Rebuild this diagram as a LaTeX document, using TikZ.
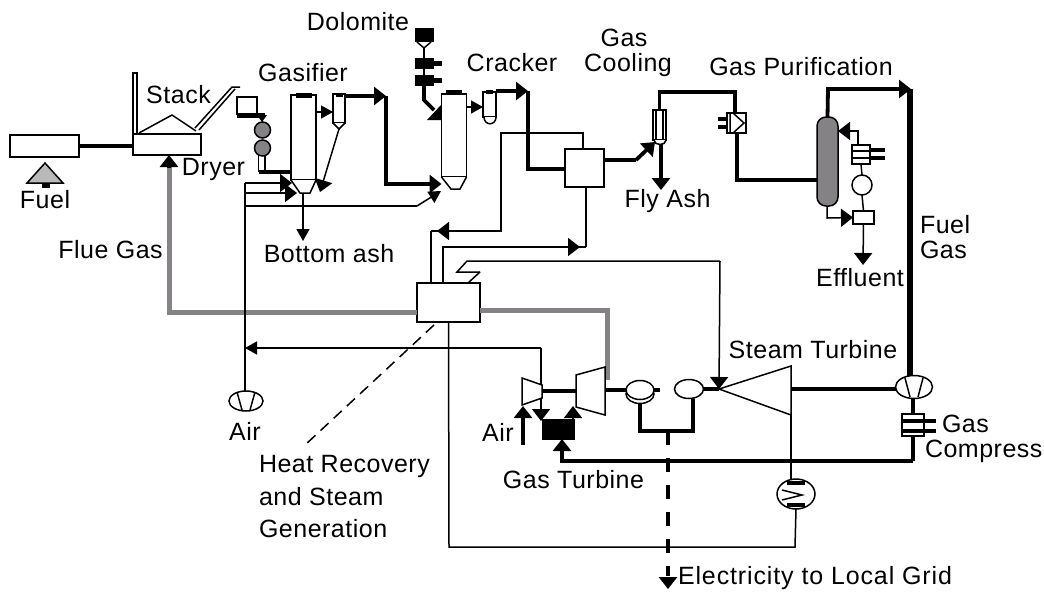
\documentclass[tikz,border=0pt]{standalone}
\usepackage{fontspec}
\setmainfont[LetterSpace=2]{Liberation Sans}
\usetikzlibrary{arrows.meta,shapes.geometric}
\definecolor{fluegray}{HTML}{858285}
\tikzset{
  thinpipe/.style={line width=1.5pt},
  thickpipe/.style={line width=3.8pt},
  fluepipe/.style={line width=5pt,draw=fluegray},
  tip/.style={-{Triangle[length=12pt,width=13pt]}},
  bigtip/.style={-{Triangle[length=12pt,width=18pt]}},
  unit/.style={draw,line width=1.5pt,fill=white,inner sep=0pt,outer sep=0pt},
  oval/.style={unit,ellipse},
  tag/.style={font=\fontsize{25}{25}\selectfont,inner sep=0pt,outer sep=0pt},
}
\begin{document}
\begin{tikzpicture}[x=1pt,y=-1pt]
  \useasboundingbox (0,0) rectangle (1044,595);

  \node[unit,minimum width=69pt,minimum height=22pt] (fuelbox) at (44.5,146) {};
  \node[unit,minimum width=68pt,minimum height=21pt] (dryer) at (167,144.5) {};
  \node[unit,minimum width=20pt,minimum height=17pt] (hopper) at (247,105.5) {};
  \node[unit,circle,fill=fluegray,minimum size=16pt] (valvea) at (262.5,130) {};
  \node[unit,circle,fill=fluegray,minimum size=16pt] (valveb) at (262.5,148) {};
  \node[unit,minimum width=25pt,minimum height=85pt] (gasifier) at (303.5,137.5) {};
  \node[unit,minimum width=12pt,minimum height=29pt] (cyclonea) at (339,108.5) {};
  \node[unit,minimum width=25pt,minimum height=83pt] (cracker) at (454,135.5) {};
  \node[unit,minimum width=13pt,minimum height=25pt] (cycloneb) at (489.5,104.5) {};
  \node[unit,minimum width=39pt,minimum height=38pt] (cooler) at (584.5,168) {};
  \node[unit,minimum width=13pt,minimum height=30pt] (flyash) at (659.5,125) {};
  \node[unit,minimum width=19pt,minimum height=20pt] (filter) at (736.5,123) {};
  \node[unit,fill=fluegray,rounded corners=9pt,minimum width=21pt,minimum height=89pt] (scrubber) at (827.5,161.5) {};
  \node[unit,minimum width=18pt,minimum height=19pt] (washer) at (861,154.5) {};
  \node[unit,circle,minimum size=20pt] (pump) at (862,185) {};
  \node[unit,minimum width=21pt,minimum height=13pt] (settler) at (863.5,217.5) {};
  \node[unit,minimum width=63pt,minimum height=39pt] (hrsg) at (448.5,302.5) {};
  \node[oval,minimum width=34pt,minimum height=20pt] (airfan) at (246,401) {};
  \node[unit,fill=black,minimum width=31pt,minimum height=19pt] (burner) at (558.5,429.5) {};
  \node[oval,minimum width=28pt,minimum height=19pt] (genb) at (640,394) {};
  \node[oval,minimum width=28pt,minimum height=19pt] (gena) at (640,390) {};
  \node[oval,minimum width=29pt,minimum height=19pt] (genc) at (689,389) {};
  \node[oval,minimum width=37pt,minimum height=23pt] (expander) at (914,387) {};
  \node[unit,minimum width=22pt,minimum height=22pt] (gascomp) at (913,425) {};
  \node[oval,minimum width=38pt,minimum height=30pt] (condenser) at (796,494) {};

  \coordinate (dolo) at (424,48);
  \coordinate (dolotip) at (441,113);
  \coordinate (airline) at (245,348);
  \coordinate (gtin) at (541,421);
  \coordinate (gtout) at (576,406);
  \coordinate (stin) at (719,389);
  \coordinate (elec) at (668,431);
  \coordinate (elecend) at (668,589);

  % drying and feed
  \draw[thickpipe] (fuelbox.east) -- (dryer.west |- fuelbox.east);
  \draw[thinpipe] (133,134) -- (133,73) -- (137,73) -- (137,134);
  \draw[thinpipe] (139,133) -- (172,115) -- (196,131);
  \draw[thinpipe] (195,128) -- (232,87) -- (240,87) (199,130) -- (235,89);
  \draw[thinpipe,fill=gray!55] (45,163) -- (27,183) -- (63,183) -- cycle;
  \fill (42,183) rectangle (50,188);
  \draw[line width=5pt,draw=black] (237,115) -- (265,115);
  \fill (257,115) -- (267,115) -- (262,122) -- cycle;
  \draw[thinpipe] (258.5,155) -- (258.5,172) (265,155) -- (265,170);
  \draw[thickpipe] (259,172) -- (gasifier.west |- 0,172);
  \draw[fluepipe] (169,165) -- (169,312) -- (hrsg.west |- 0,312);
  \draw[bigtip,thickpipe,draw=black] (169,168) -- (dryer.south -| 169,0);

  % gasifier
  \draw[thinpipe,fill=white] (gasifier.south west) -- (300,193) -- (310,193) -- (gasifier.south east);
  \draw[line width=5pt] (296,95) -- (312,95);
  \draw[thinpipe,fill=white] (cyclonea.south west) -- (339,129) -- (cyclonea.south east);
  \draw[line width=4pt] (336,95) -- (343,95);
  \draw[thinpipe,tip] (gasifier.east |- 0,112) -- (cyclonea.west |- 0,112);
  \draw[thickpipe,bigtip] (cyclonea.north east |- 0,96) -- (386,96);
  \draw[thickpipe,bigtip] (386,96) -- (386,184) -- (cracker.west |- 0,184);
  \draw[thinpipe,bigtip] (339,129) -- (320,192);
  \draw[thinpipe] (245,183) -- (airfan.north -| 245,0);
  \draw[thinpipe,bigtip] (245,183) -- (292,183);
  \draw[thinpipe,bigtip] (245,193) -- (297,193);
  \draw[thinpipe] (245,206) -- (417,206);
  \draw[thinpipe,tip] (417,206) -- (441,191);
  \draw[thinpipe,tip] (303,193) -- (303,241);

  % cracker
  \draw[thinpipe,fill=white] (cracker.south west) -- (451,189) -- (460,189) -- (cracker.south east);
  \draw[line width=4pt] (446,92) -- (462,92);
  \fill (415,28) rectangle (434,42);
  \draw[thinpipe] (417,42) -- (424,48) -- (431,42);
  \draw[thinpipe] (dolo) -- (424,58);
  \draw[line width=11pt] (415,63) -- (434,63) (415,80) -- (434,80);
  \draw[line width=5pt] (434,63) -- (442,63) (434,80) -- (442,80);
  \draw[thinpipe] (424,67) -- (424,76);
  \draw[thickpipe] (424,84) -- (424,100) -- (434,110);
  \fill (427,120) -- (441,120) -- (dolotip) -- (441,105) -- cycle;
  \draw[thinpipe,tip] (cracker.east |- 0,107) -- (cycloneb.west |- 0,107);
  \draw[thinpipe,fill=white] (484,117) .. controls (484,126) and (496,126) .. (496,117);
  \draw[line width=4pt] (486,92) -- (493,92);
  \draw[thickpipe,bigtip] (cycloneb.north east |- 0,91) -- (528,91);
  \draw[thickpipe] (528,91) -- (528,169) -- (cooler.west |- 0,169);

  % gas cooling
  \draw[thickpipe] (cooler.east |- 0,160) -- (636,160);
  \draw[thickpipe,bigtip] (636,160) -- (655,142);
  \draw[thinpipe] (656,110) -- (656,140) (663,110) -- (663,140);
  \draw[thickpipe] (flyash.north) -- (659.5,92) -- (735,92) -- (filter.north -| 735,0);
  \draw[thickpipe,bigtip] (661,142) -- (661,190);
  \draw[thinpipe,fill=white] (654,140) .. controls (654,146) and (666,146) .. (666,140);
  \draw[thickpipe] (718,119) -- (filter.west |- 0,119) (718,127) -- (filter.west |- 0,127);
  \draw[thinpipe] (730,113) -- (730,133) (733,113) -- (744,123) -- (733,133);
  \draw[thickpipe] (filter.south -| 737,0) -- (737,180) -- (scrubber.west |- 0,180);

  % gas purification
  \draw[thickpipe,bigtip] (scrubber.north) -- (828,89) -- (911,89);
  \draw[line width=6pt] (910,89) -- (910,376);
  \draw[thinpipe,bigtip] (858,145) -- (858,131) -- (scrubber.east |- 0,131);
  \draw[thickpipe] (washer.east |- 0,150) -- (885,150) (washer.east |- 0,158) -- (885,158);
  \draw[thinpipe] (washer.west |- 0,151) -- (washer.east |- 0,151) (washer.west |- 0,158) -- (washer.east |- 0,158);
  \draw[thinpipe] (861,164) -- (pump.north);
  \draw[thinpipe] (pump.south) -- (settler.north);
  \draw[thinpipe,bigtip] (827,206) -- (827,218) -- (settler.west);
  \draw[thinpipe,bigtip] (settler.south) -- (863,265);

  % heat recovery
  \draw[thinpipe] (583,149) -- (583,133) -- (501,133) -- (501,231) -- (431,231);
  \draw[thinpipe,bigtip] (470,231) -- (437,231);
  \draw[thinpipe] (431,231) -- (431,283);
  \draw[thinpipe] (443,283) -- (443,247) -- (586,247);
  \draw[thinpipe,bigtip] (500,247) -- (580,247);
  \draw[thinpipe] (cooler.south -| 586,0) -- (586,247);
  \draw[thinpipe] (468,283) -- (480,272);
  \draw[thinpipe] (480,272) -- (457,272) -- (467,261) -- (720,261);
  \draw[thinpipe,bigtip] (720,261) -- (stin);
  \draw[thinpipe,dash pattern=on 11pt off 7pt] (434,325) -- (305,445);
  \draw[thinpipe] (hrsg.south) -- (449,547) -- (795,547) -- (condenser.south);
  \draw[fluepipe] (hrsg.east |- 0,310) -- (607,310) -- (607,380);

  % gas turbine
  \draw[thinpipe,tip] (541,348) -- (airline);
  \draw[thinpipe] (541,348) -- (gtin |- 0,410);
  \draw[thinpipe,bigtip] (gtin |- 0,410) -- (gtin);
  \draw[thinpipe,fill=white] (522,378) -- (542,385) -- (542,398) -- (522,405) -- cycle;
  \draw[thinpipe,fill=white] (576,375) -- (605,367) -- (605,415) -- (576,407) -- cycle;
  \draw[thickpipe] (542,391) -- (576,391);
  \draw[thinpipe,bigtip] (573,420) -- (gtout -| 573,0);
  \draw[thickpipe,bigtip] (523,445) -- (523,406);
  \draw[thickpipe,bigtip] (913,461) -- (562,461) -- (burner.south -| 562,0);
  \draw[thickpipe] (605,390) -- (gena.west);
  \draw[thickpipe] (gena.east) -- (660,390);
  \draw[thickpipe] (genc.east) -- (stin);

  % steam turbine
  \draw[thinpipe,fill=white] (stin) -- (791,366) -- (791,415) -- cycle;
  \draw[thinpipe] (791,415) -- (791,479);
  \draw[thickpipe] (791,389) -- (expander.west |- 0,389);
  \draw[thinpipe] (905,378) -- (910,397) (923,378) -- (918,397);
  \draw[thickpipe] (expander.south -| 913,0) -- (gascomp.north);
  \draw[thickpipe] (gascomp.south) -- (913,461);
  \draw[thickpipe] (gascomp.east |- 0,421) -- (936,421) (gascomp.east |- 0,431) -- (936,431);
  \draw[thickpipe] (902,421) -- (924,421) (902,431) -- (924,431);
  \draw[thinpipe] (782,490) -- (802,495) -- (782,500);
  \draw[thickpipe] (787,483) -- (805,483) (787,505) -- (805,505);
  \draw[thinpipe] (237,392) -- (242,410) (255,392) -- (250,410);

  % electricity
  \draw[thickpipe] (genb.south -| 640,0) -- (640,431) -- (693,431) -- (genc.south -| 693,0);
  \draw[thickpipe,dash pattern=on 14pt off 13pt] (elec) -- (668,576);
  \draw[thickpipe,bigtip] (668,577) -- (elecend);

  \node[tag] (dolomitetag) at (358,22) {Dolomite};
  \node[tag] (gasifiertag) at (303,73) {Gasifier};
  \node[tag] (stacktag) at (178.5,95) {Stack};
  \node[tag] (crackertag) at (512,63) {Cracker};
  \node[tag] (gastag) at (624,38) {Gas};
  \node[tag] (coolingtag) at (628,65) {Cooling};
  \node[tag] (purifytag) at (801,67) {Gas Purification};
  \node[tag] (dryertag) at (213.5,169) {Dryer};
  \node[tag] (fueltag) at (45,200) {Fuel};
  \node[tag] (fluetag) at (110.5,250) {Flue Gas};
  \node[tag] (ashtag) at (329,254) {Bottom ash};
  \node[tag] (flytag) at (667.5,201) {Fly Ash};
  \node[tag,anchor=west] (fuelgasa) at (920,225) {Fuel};
  \node[tag,anchor=west] (fuelgasb) at (920,250) {Gas};
  \node[tag] (effluenttag) at (860,278) {Effluent};
  \node[tag] (steamtag) at (813,350) {Steam Turbine};
  \node[tag] (airtaga) at (245,431) {Air};
  \node[tag] (airtagb) at (498,432) {Air};
  \node[tag] (gtag) at (573.5,480) {Gas Turbine};
  \node[tag,anchor=west] (comptaga) at (942,424) {Gas};
  \node[tag,anchor=west] (comptagb) at (925,451) {Compress};
  \node[tag,anchor=west] (heattaga) at (259,466) {Heat Recovery};
  \node[tag,anchor=west] (heattagb) at (259,497) {and Steam};
  \node[tag,anchor=west] (heattagc) at (259,529) {Generation};
  \node[tag,anchor=west] (electag) at (678,578) {\addfontfeature{LetterSpace=3.5}Electricity to Local Grid};
\end{tikzpicture}
\end{document}
